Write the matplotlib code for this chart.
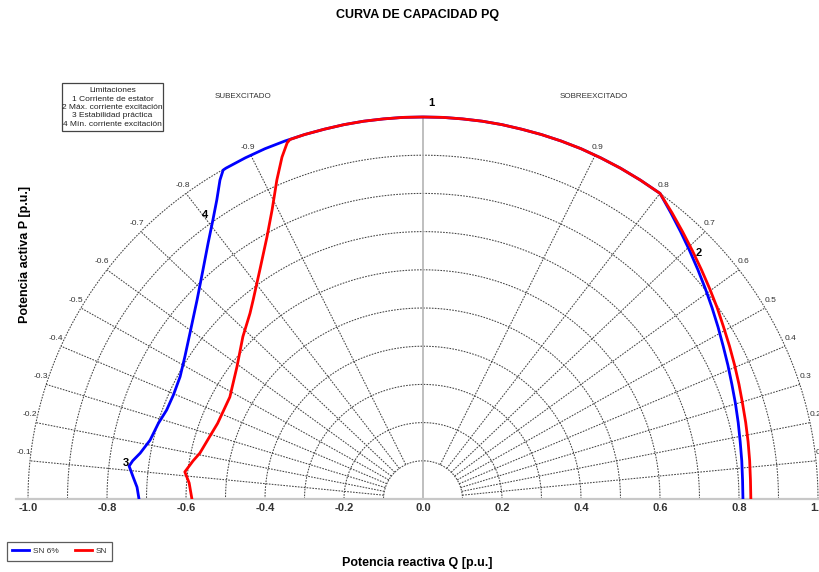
import numpy as np
import matplotlib
matplotlib.use("Agg")
import matplotlib.pyplot as plt
from matplotlib.patches import Rectangle

plt.rcParams['font.family'] = ['Liberation Sans', 'DejaVu Sans']

# ---------------- data (Q, P in p.u.) ----------------
q_sn6 = [-0.719, -0.724, -0.734, -0.740, -0.744, -0.735, -0.716, -0.691, -0.670,
         -0.649, -0.632, -0.615, -0.603, -0.590, -0.572, -0.557, -0.544, -0.532,
         -0.522, -0.514, -0.506, -0.499,
         -0.45, -0.40, -0.35, -0.30, -0.25, -0.20, -0.15, -0.10, -0.05, 0.00,
         0.05, 0.10, 0.15, 0.20, 0.25, 0.30, 0.35, 0.40,
         0.45, 0.50, 0.55, 0.60,
         0.627, 0.652, 0.675, 0.696, 0.715, 0.732, 0.747, 0.760, 0.772, 0.782,
         0.791, 0.798, 0.803, 0.807, 0.809, 0.810]
p_sn6 = [0.000, 0.031, 0.058, 0.075, 0.086, 0.100, 0.120, 0.154, 0.198,
         0.233, 0.272, 0.320, 0.372, 0.434, 0.521, 0.600, 0.670, 0.730,
         0.783, 0.835, 0.861, 0.866,
         0.893, 0.917, 0.937, 0.954, 0.968, 0.980, 0.989, 0.995, 0.999, 1.000,
         0.999, 0.995, 0.989, 0.980, 0.968, 0.954, 0.937, 0.917,
         0.893, 0.866, 0.835, 0.800,
         0.75, 0.70, 0.65, 0.60, 0.55, 0.50, 0.45, 0.40, 0.35, 0.30,
         0.25, 0.20, 0.15, 0.10, 0.05, 0.00]

q_sn = [-0.585, -0.592, -0.603, -0.582, -0.565, -0.542, -0.520, -0.489, -0.471,
        -0.456, -0.438, -0.430, -0.413, -0.395, -0.382, -0.370, -0.357, -0.344,
        -0.337,
        -0.30, -0.25, -0.20, -0.15, -0.10, -0.05, 0.00, 0.05, 0.10, 0.15, 0.20,
        0.25, 0.30, 0.35, 0.40, 0.45, 0.50, 0.55, 0.60,
        0.630, 0.657, 0.682, 0.705, 0.726, 0.745, 0.761, 0.776, 0.789, 0.800,
        0.809, 0.817, 0.823, 0.827, 0.829, 0.830]
p_sn = [0.000, 0.042, 0.071, 0.100, 0.120, 0.160, 0.198, 0.267, 0.346,
        0.425, 0.486, 0.521, 0.600, 0.686, 0.757, 0.835, 0.895, 0.932,
        0.941,
        0.954, 0.968, 0.980, 0.989, 0.995, 0.999, 1.000, 0.999, 0.995, 0.989, 0.980,
        0.968, 0.954, 0.937, 0.917, 0.893, 0.866, 0.835, 0.800,
        0.75, 0.70, 0.65, 0.60, 0.55, 0.50, 0.45, 0.40, 0.35, 0.30,
        0.25, 0.20, 0.15, 0.10, 0.05, 0.00]

pf_values = [0.1, 0.2, 0.3, 0.4, 0.5, 0.6, 0.7, 0.8, 0.9]
arc_radii = [0.1, 0.2, 0.3, 0.4, 0.5, 0.6, 0.7, 0.8, 0.9, 1.0]
x_ticks = [-1.0, -0.8, -0.6, -0.4, -0.2, 0.0, 0.2, 0.4, 0.6, 0.8, 1.0]
limit_lines = ["Limitaciones", "1 Corriente de estator", "2 Máx. corriente excitación",
               "3 Estabilidad práctica", "4 Mín. corriente excitación"]
series_names = ["SN 6%", "SN"]

# ---------------- figure ----------------
W, H = 819, 572
fig = plt.figure(figsize=(W / 100, H / 100), dpi=100)
ax = fig.add_axes([16.15 / W, (H - 499) / H, 813.7 / W, 420.2 / H])
ax.set_xlim(-1.03, 1.03)
ax.set_ylim(0, 1.1)

grid_kw = dict(color='#444444', lw=0.75, ls=(0, (1.6, 1.2)), zorder=1)
theta = np.linspace(0, np.pi, 400)
for r in arc_radii:
    ax.plot(r * np.cos(theta), r * np.sin(theta), **grid_kw)

for pf in pf_values:
    ang = np.arcsin(pf)
    c, s = np.cos(ang), np.sin(ang)
    for side in (1, -1):
        ax.plot([side * 0.1 * c, side * 1.0 * c], [0.1 * s, 1.0 * s], **grid_kw)
        lab = f"{pf:.1f}" if side > 0 else f"-{pf:.1f}"
        ax.annotate(lab, (side * c, s), xytext=(side * 6 * c, 8),
                    textcoords='offset pixels', ha='center', va='center',
                    fontsize=6, color='#333333')

ax.plot([0, 0], [0, 1], color='#b4b4b4', lw=1.2, zorder=1)

ax.plot(q_sn6, p_sn6, color='#0000ff', lw=2.0, label=series_names[0], zorder=3)
ax.plot(q_sn, p_sn, color='#ff0000', lw=2.0, label=series_names[1], zorder=4)

# limitation numbers
num_kw = dict(textcoords='offset pixels', ha='center', va='center',
              fontsize=8, fontweight='bold', color='black', zorder=5)
ax.annotate("1", (q_sn[25], p_sn[25]), xytext=(8, 14), **num_kw)
ax.annotate("2", (q_sn[40], p_sn[40]), xytext=(6, -2), **num_kw)
ax.annotate("3", (q_sn6[4], p_sn6[4]), xytext=(-3, 3), **num_kw)
ax.annotate("4", (q_sn6[17], p_sn6[17]), xytext=(-8, 5), **num_kw)

# axes styling
for sp in ('top', 'left', 'right'):
    ax.spines[sp].set_visible(False)
ax.spines['bottom'].set_color('#c8c8c8')
ax.spines['bottom'].set_linewidth(1.6)
ax.set_yticks([])
ax.set_xticks(x_ticks)
ax.set_xticklabels([f"{v:.1f}" for v in x_ticks])
ax.tick_params(axis='x', length=0, pad=3, labelsize=8, labelcolor='#333333')
for lbl in ax.get_xticklabels():
    lbl.set_fontweight('bold')

# texts
fig.text(418 / W, 1 - 15 / H, "CURVA DE CAPACIDAD PQ", ha='center', va='center',
         fontsize=9, fontweight='bold')
fig.text(417.5 / W, 1 - 563 / H, "Potencia reactiva Q [p.u.]", ha='center', va='center',
         fontsize=9, fontweight='bold')
fig.text(25 / W, 1 - 254.5 / H, "Potencia activa P [p.u.]", ha='center', va='center',
         rotation=90, fontsize=9, fontweight='bold')
fig.text(243 / W, 1 - 96 / H, "SUBEXCITADO", ha='center', va='center',
         fontsize=5.8, color='#333333')
fig.text(594 / W, 1 - 96 / H, "SOBREEXCITADO", ha='center', va='center',
         fontsize=5.8, color='#333333')

# limitations box
fig.patches.append(Rectangle((62 / W, 1 - 131 / H), 101 / W, 48 / H,
                             transform=fig.transFigure, fc='white', ec='#444444',
                             lw=0.9, zorder=6))
fig.text(112.5 / W, 1 - 107.5 / H, "\n".join(limit_lines), ha='center', va='center',
         fontsize=6, linespacing=1.25, color='#222222', zorder=7)

leg = fig.legend(loc='upper left', bbox_to_anchor=(7 / W, 1 - 542 / H), ncol=2,
                 fontsize=6, frameon=True, fancybox=False, edgecolor='#333333',
                 borderpad=0.65, handlelength=2.0, columnspacing=1.9,
                 handletextpad=0.5, borderaxespad=0)
leg.get_frame().set_linewidth(0.9)
for t in leg.get_texts():
    t.set_color('#333333')

fig.savefig("out.png", dpi=100)
